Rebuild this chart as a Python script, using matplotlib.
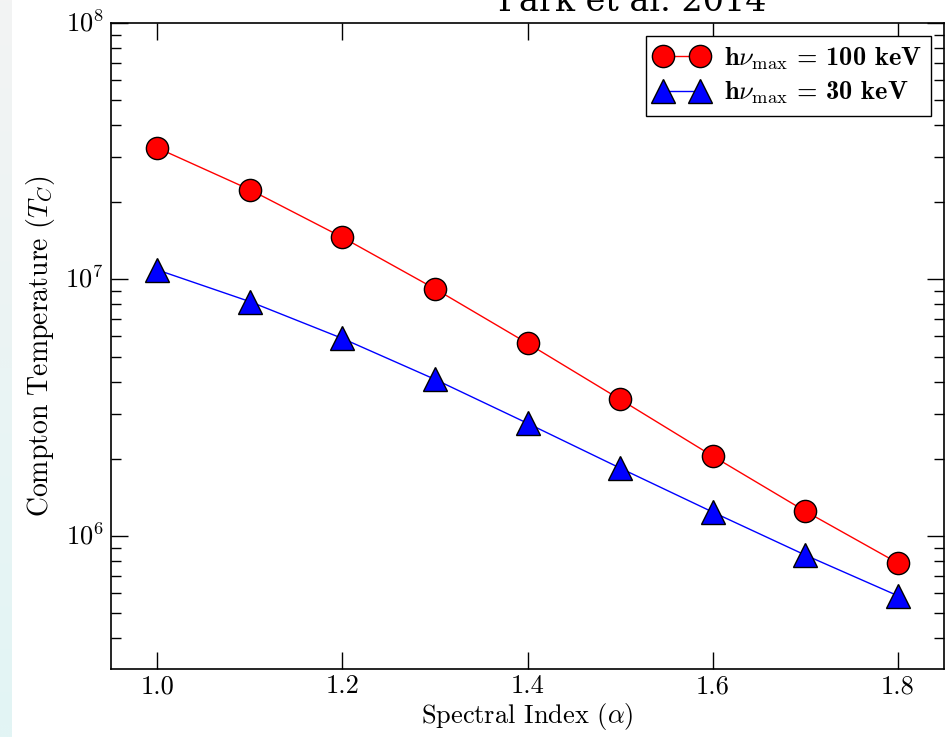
import numpy as np
import matplotlib
matplotlib.use("Agg")
import matplotlib.pyplot as plt
from matplotlib.colors import LinearSegmentedColormap

alpha = [1.0, 1.1, 1.2, 1.3, 1.4, 1.5, 1.6, 1.7, 1.8]
tc_100kev = [3.26e7, 2.24e7, 1.46e7, 9.2e6, 5.64e6, 3.41e6, 2.05e6, 1.25e6, 7.85e5]
tc_30kev = [1.09e7, 8.2e6, 5.89e6, 4.08e6, 2.75e6, 1.84e6, 1.24e6, 8.43e5, 5.85e5]
xticks = [1.0, 1.2, 1.4, 1.6, 1.8]
label_100 = r"h$\nu_{\rm max}$ = 100 keV"
label_30 = r"h$\nu_{\rm max}$ = 30 keV"
title_text = "Park et al. 2014"

plt.style.use("classic")
plt.rcParams.update({
    "font.family": "serif",
    "font.serif": ["cmr10", "DejaVu Serif"],
    "mathtext.fontset": "cm",
    "axes.formatter.use_mathtext": True,
    "figure.facecolor": "white",
    "savefig.facecolor": "white",
})

fig = plt.figure(figsize=(9.48, 7.37), dpi=100)

# left gradient strip (slide background)
bg = fig.add_axes([0, 0, 12/948, 1])
grad = np.linspace(0, 1, 256).reshape(-1, 1)
cmap = LinearSegmentedColormap.from_list("g", ["#f3f3f3", "#e2f5f5"])
bg.imshow(grad, aspect="auto", cmap=cmap, extent=[0, 1, 0, 1], origin="upper")
bg.set_axis_off()

ax = fig.add_axes([111/948, 68/737, 833/948, 646/737])
ax.plot(alpha, tc_100kev, "-o", color="red", mfc="red", mec="black", mew=1.0,
        ms=16, lw=1.0, label=label_100)
ax.plot(alpha, tc_30kev, "-^", color="blue", mfc="blue", mec="black", mew=1.0,
        ms=17, lw=1.0, label=label_30)
ax.set_yscale("log")
ax.set_xlim(0.95, 1.85)
ax.set_ylim(3.03e5, 1e8)
ax.set_xticks(xticks)
ax.set_xticklabels([f"{v:.1f}" for v in xticks])
ax.tick_params(which="major", length=12, width=1, labelsize=19, direction="in")
ax.tick_params(axis="x", which="major", pad=4)
ax.tick_params(axis="y", which="major", pad=5)
ax.tick_params(which="minor", length=7, width=1, direction="in")
ax.set_xlabel(r"Spectral Index ($\alpha$)", fontsize=19)
ax.xaxis.set_label_coords(0.5, -(717 - 669) / 646, transform=ax.transAxes)
ax.xaxis.label.set_va("center")
ax.set_ylabel(r"Compton Temperature ($T_C$)", fontsize=20, labelpad=6)
for s in ax.spines.values():
    s.set_linewidth(1.2)

leg = ax.legend(loc="upper right", numpoints=2, fancybox=False,
                prop={"family": "cmb10", "size": 19}, borderaxespad=0.5,
                handlelength=2.0, handletextpad=0.6, borderpad=0.35, labelspacing=0.3)
leg.get_frame().set_linewidth(1.0)

fig.text(632/948, 1 - 11/737, title_text, ha="center", va="baseline",
         fontsize=24, family="DejaVu Serif")

fig.savefig("out.png", dpi=100)
